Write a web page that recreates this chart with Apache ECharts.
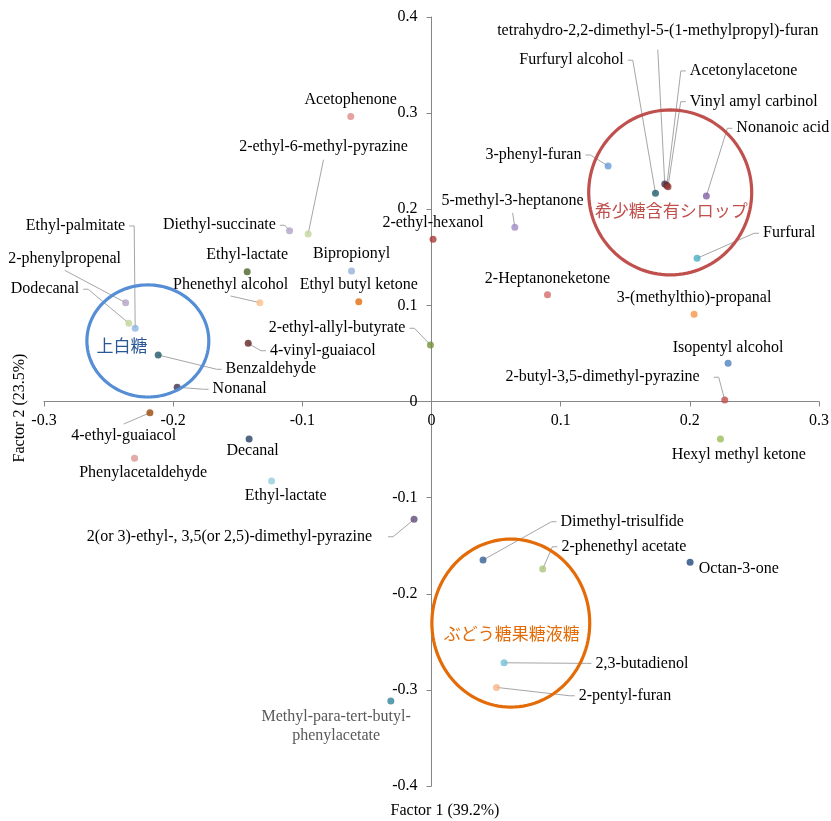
<!DOCTYPE html>
<html>
<head>
<meta charset="utf-8">
<script src="https://cdn.jsdelivr.net/npm/echarts@6/dist/echarts.min.js"></script>
<style>
  html, body { margin: 0; padding: 0; background: #fff; }
  #chart { width: 831px; height: 821px; }
</style>
</head>
<body>
<div id="chart"></div>
<script>
// Volatile compounds on the first two factors of the factor analysis
const compounds = [
  'Acetophenone', '2-ethyl-6-methyl-pyrazine', 'Diethyl-succinate', 'Ethyl-lactate', 'Bipropionyl',
  'Ethyl-palmitate', '2-phenylpropenal', 'Dodecanal', 'Benzaldehyde', 'Nonanal',
  '4-vinyl-guaiacol', 'Phenethyl alcohol', 'Ethyl butyl ketone', '2-ethyl-allyl-butyrate', '4-ethyl-guaiacol',
  'Phenylacetaldehyde', 'Decanal', 'Ethyl-lactate', '2(or 3)-ethyl-, 3,5(or 2,5)-dimethyl-pyrazine',
  'Methyl-para-tert-butyl-\nphenylacetate',
  '2-ethyl-hexanol', '3-phenyl-furan', 'Furfuryl alcohol', 'tetrahydro-2,2-dimethyl-5-(1-methylpropyl)-furan',
  'Acetonylacetone', 'Vinyl amyl carbinol', 'Nonanoic acid', '5-methyl-3-heptanone', 'Furfural',
  '2-Heptanoneketone', '3-(methylthio)-propanal', 'Isopentyl alcohol', '2-butyl-3,5-dimethyl-pyrazine',
  'Hexyl methyl ketone', 'Dimethyl-trisulfide', '2-phenethyl acetate', 'Octan-3-one', '2,3-butadienol',
  '2-pentyl-furan'
];

const factor1 = [
  -0.0625, -0.0955, -0.1099, -0.1427, -0.0619,
  -0.2294, -0.2368, -0.2343, -0.2116, -0.1969,
  -0.1419, -0.1329, -0.0563, -0.0008, -0.2180,
  -0.2299, -0.1412, -0.1238, -0.0135,
  -0.0315,
  0.0012, 0.1367, 0.1734, 0.1806,
  0.1822, 0.1831, 0.2128, 0.0645, 0.2056,
  0.0898, 0.2033, 0.2296, 0.2270,
  0.2237, 0.0399, 0.0861, 0.2002, 0.0562,
  0.0503
];

const factor2 = [
  0.2964, 0.1743, 0.1777, 0.1351, 0.1358,
  0.0762, 0.1028, 0.0814, 0.0484, 0.0148,
  0.0605, 0.1028, 0.1039, 0.0588, -0.0117,
  -0.0591, -0.0390, -0.0827, -0.1226,
  -0.3117,
  0.1688, 0.2450, 0.2167, 0.2263,
  0.2248, 0.2235, 0.2138, 0.1813, 0.1490,
  0.1111, 0.0907, 0.0397, 0.0016,
  -0.0390, -0.1649, -0.1743, -0.1673, -0.2718,
  -0.2974
];

const pointColors = [
  '#e08a8a', '#c3d69b', '#b3a2c7', '#4f6228', '#95b3d7',
  '#8eb4e3', '#b3a2c7', '#c3d69b', '#215968', '#3f3151',
  '#632523', '#fac090', '#e46c0a', '#77933c', '#984807',
  '#d99694', '#254061', '#93cddd', '#604a7b',
  '#31859c',
  '#a93a38', '#6a9bd8', '#205f6e', '#403152',
  '#632523', '#953735', '#8064a2', '#a08cc4', '#4bacc6',
  '#d46a6a', '#f79646', '#4f81bd', '#c0504d',
  '#9bbb59', '#376092', '#abc57a', '#1f497d', '#71c0d6',
  '#f9b487'
];

// Axis ranges and tick step
const xRange = [-0.3, 0.3];
const yRange = [-0.4, 0.4];
const tickStep = 0.1;
const xAxisTitle = 'Factor 1 (39.2%)';
const yAxisTitle = 'Factor 2 (23.5%)';

// Sample groups circled on the map (centres and radii in factor units)
const groupNames = ['希少糖含有シロップ', '上白糖', 'ぶどう糖果糖液糖'];
const groupCenterX = [0.1848, -0.2196, 0.0614];
const groupCenterY = [0.2175, 0.0630, -0.2305];
const groupRadiusX = [0.0631, 0.0472, 0.0611];
const groupRadiusY = [0.0858, 0.0583, 0.0874];
const groupTextX = [0.1856, -0.2397, 0.0622];
const groupTextY = [0.1988, 0.0583, -0.2414];
const groupColors = ['#c0504d', '#558ed5', '#e36c09'];
const groupTextColors = ['#c0504d', '#2b5797', '#e36c09'];

// Label placement: offset of the label anchor from the point (px), alignment and leader style
const labelPlacement = [
  { dx: 0, dy: -17, align: 'center' },
  { dx: 15.4, dy: -87.3, align: 'center', lead: 'bottom', gap: 5 },
  { dx: -13.7, dy: -5.4, align: 'right', lead: 'side' },
  { dx: 0, dy: -16.7, align: 'center' },
  { dx: 0, dy: -16.7, align: 'center' },
  { dx: -10, dy: -102.3, align: 'right', lead: 'side' },
  { dx: -61, dy: -43.4, align: 'center', lead: 'bottom', gap: 3 },
  { dx: -49.7, dy: -34, align: 'right', lead: 'side' },
  { dx: 67.4, dy: 14.3, align: 'left', lead: 'side' },
  { dx: 35.4, dy: 2, align: 'left', lead: 'side' },
  { dx: 21.7, dy: 7.4, align: 'left', lead: 'side' },
  { dx: -29.3, dy: -17.7, align: 'center', lead: 'bottom', gap: 3 },
  { dx: 0, dy: -16.7, align: 'center' },
  { dx: -25, dy: -16.7, align: 'right', lead: 'side' },
  { dx: -26.2, dy: 23.3, align: 'center', lead: 'top', gap: 4 },
  { dx: 8.6, dy: 14, align: 'center' },
  { dx: 3.5, dy: 11.5, align: 'center' },
  { dx: 14.1, dy: 15, align: 'center' },
  { dx: -42, dy: 17.4, align: 'right', lead: 'side', gap: 16 },
  { dx: -54.7, dy: 25.3, align: 'center', color: '#595959' },
  { dx: 0, dy: -16.5, align: 'center' },
  { dx: -26.6, dy: -11, align: 'right', lead: 'side' },
  { dx: -31.7, dy: -133, align: 'right', lead: 'side' },
  { dx: -7, dy: -153.3, align: 'center', lead: 'bottom', gap: 11 },
  { dx: 23, dy: -114.5, align: 'left', lead: 'side' },
  { dx: 21.7, dy: -85, align: 'left', lead: 'side' },
  { dx: 30, dy: -67.7, align: 'left', lead: 'side' },
  { dx: -2.2, dy: -26.3, align: 'center', lead: 'bottom', gap: 4 },
  { dx: 66, dy: -25, align: 'left', lead: 'side' },
  { dx: 0, dy: -16.4, align: 'center' },
  { dx: 0, dy: -16.6, align: 'center' },
  { dx: 0, dy: -16, align: 'center' },
  { dx: -25, dy: -22.7, align: 'right', lead: 'side', gap: 14 },
  { dx: 18.3, dy: 16, align: 'center' },
  { dx: 77.4, dy: -38.3, align: 'left', lead: 'side' },
  { dx: 18.7, dy: -22.3, align: 'left', lead: 'side' },
  { dx: 8.7, dy: 6.7, align: 'left' },
  { dx: 91.4, dy: 0.6, align: 'left', lead: 'side' },
  { dx: 82.3, dy: 8.4, align: 'left', lead: 'side' }
];

const SERIF = '"Liberation Serif", "Times New Roman", serif';
const CJK = '"Noto Sans CJK JP", "Noto Sans CJK SC", sans-serif';
const LABEL_FONT = '16px ' + SERIF;
const AXIS_GRAY = '#868686';
const LEADER_GRAY = '#a6a6a6';
const TEXT_COLOR = '#000000';

const W = 831, H = 821;
const grid = { left: 44, right: 12, top: 17, bottom: 35 };
const gridW = W - grid.left - grid.right;
const gridH = H - grid.top - grid.bottom;
// the axes cross at the origin: shift each axis inwards to the zero of the other one
const xAxisShift = gridH * (0 - yRange[0]) / (yRange[1] - yRange[0]);
const yAxisShift = gridW * (0 - xRange[0]) / (xRange[1] - xRange[0]);

const chart = echarts.init(document.getElementById('chart'));

const points = compounds.map((name, i) => {
  const item = {
    name: name,
    value: [factor1[i], factor2[i]],
    itemStyle: { color: pointColors[i] }
  };
  if (labelPlacement[i].color) item.label = { color: labelPlacement[i].color };
  return item;
});

// Places each label at its offset from the point
function placeLabel(p) {
  const place = labelPlacement[p.dataIndex];
  const cx = p.rect.x + p.rect.width / 2;
  const cy = p.rect.y + p.rect.height / 2;
  return { x: cx + place.dx, y: cy + place.dy, align: place.align, verticalAlign: 'middle' };
}

function tickText(v) {
  const r = Math.round(v * 10) / 10;
  return r === 0 ? '0' : String(r);
}

const axisCommon = {
  type: 'value',
  interval: tickStep,
  splitLine: { show: false },
  axisLine: { onZero: false, lineStyle: { color: AXIS_GRAY, width: 1 } },
  axisTick: { show: true, length: 5, lineStyle: { color: AXIS_GRAY } }
};

chart.setOption({
  animation: false,
  backgroundColor: '#ffffff',
  grid: Object.assign({ containLabel: false, outerBoundsMode: 'none' }, grid),
  xAxis: Object.assign({}, axisCommon, {
    position: 'bottom',
    offset: -xAxisShift,
    min: xRange[0], max: xRange[1],
    axisLabel: { fontFamily: SERIF, fontSize: 16, color: TEXT_COLOR, margin: 11, formatter: tickText }
  }),
  yAxis: Object.assign({}, axisCommon, {
    position: 'left',
    offset: -yAxisShift,
    min: yRange[0], max: yRange[1],
    axisLabel: { fontFamily: SERIF, fontSize: 16, color: TEXT_COLOR, margin: 14, formatter: tickText }
  }),
  series: [{
    type: 'scatter',
    symbol: 'circle',
    symbolSize: 7,
    z: 3,
    data: points,
    label: {
      show: true,
      position: 'top',
      formatter: '{b}',
      fontFamily: SERIF,
      fontSize: 16,
      lineHeight: 19,
      color: TEXT_COLOR,
      textBorderWidth: 0,
      textShadowBlur: 0,
      opacity: 1
    },
    labelLayout: placeLabel,
    emphasis: { disabled: true }
  }]
});

const graphics = [];

// Leader lines from each point to its label, drawn beneath the points
const measure = document.createElement('canvas').getContext('2d');
measure.font = LABEL_FONT;
compounds.forEach((name, i) => {
  const place = labelPlacement[i];
  if (!place.lead) return;
  const c = chart.convertToPixel({ seriesIndex: 0 }, [factor1[i], factor2[i]]);
  const lx = c[0] + place.dx, ly = c[1] + place.dy;
  const w = measure.measureText(name).width;
  const h = 16;
  const left = place.align === 'left' ? lx : place.align === 'right' ? lx - w : lx - w / 2;
  const gap = place.gap != null ? place.gap : 4;
  let pts;
  if (place.lead === 'side') {
    const onRight = c[0] > left + w / 2;
    const endX = onRight ? left + w + gap : left - gap;
    const elbowX = onRight ? endX + 5 : endX - 5;
    pts = [c, [elbowX, ly], [endX, ly]];
  } else if (place.lead === 'bottom') {
    pts = [c, [left + w / 2, ly + h / 2 + gap]];
  } else {
    pts = [c, [left + w / 2, ly - h / 2 - gap]];
  }
  graphics.push({
    type: 'polyline',
    z: 1,
    silent: true,
    shape: { points: pts },
    style: { stroke: LEADER_GRAY, lineWidth: 1, fill: 'none' }
  });
});

// Group outlines and names, positioned through the chart's own scales
function ellipsePoints(c, rx, ry) {
  const pts = [];
  for (let k = 0; k < 120; k++) {
    const a = k / 120 * Math.PI * 2;
    pts.push([c[0] + rx * Math.cos(a), c[1] + ry * Math.sin(a)]);
  }
  return pts;
}

groupNames.forEach((label, i) => {
  const c = chart.convertToPixel({ gridIndex: 0 }, [groupCenterX[i], groupCenterY[i]]);
  const ex = chart.convertToPixel({ gridIndex: 0 }, [groupCenterX[i] + groupRadiusX[i], groupCenterY[i] + groupRadiusY[i]]);
  const t = chart.convertToPixel({ gridIndex: 0 }, [groupTextX[i], groupTextY[i]]);
  graphics.push({
    type: 'polygon',
    z: 50,
    silent: true,
    shape: { points: ellipsePoints(c, ex[0] - c[0], c[1] - ex[1]) },
    style: { fill: 'none', stroke: groupColors[i], lineWidth: 3.2 }
  });
  graphics.push({
    type: 'text',
    z: 51,
    x: t[0], y: t[1],
    style: {
      text: label, fill: groupTextColors[i],
      font: '17px ' + CJK,
      align: 'center', verticalAlign: 'middle'
    }
  });
});

// Axis titles
graphics.push({
  type: 'text',
  x: 445, y: H - grid.bottom + 25,
  style: { text: xAxisTitle, fill: TEXT_COLOR, font: LABEL_FONT, align: 'center', verticalAlign: 'middle' }
});
graphics.push({
  type: 'text',
  x: 20, y: 408, rotation: Math.PI / 2,
  style: { text: yAxisTitle, fill: TEXT_COLOR, font: LABEL_FONT, align: 'center', verticalAlign: 'middle' }
});

chart.setOption({ graphic: graphics });
</script>
</body>
</html>
